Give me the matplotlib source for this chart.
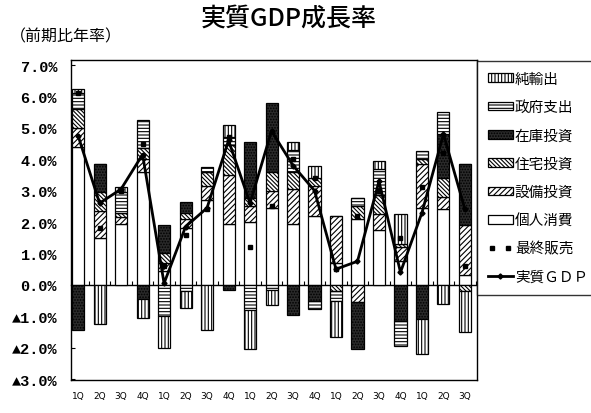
import numpy as np
import matplotlib
matplotlib.use('Agg')
import matplotlib.pyplot as plt
from matplotlib.patches import Patch
from matplotlib.lines import Line2D
from matplotlib.legend_handler import HandlerLine2D

# ---------------- data ----------------
quarters = ['1Q', '2Q', '3Q', '4Q'] * 4 + ['1Q', '2Q', '3Q']

kojin       = [4.40, 1.50, 1.95, 3.60, 0.45, 1.80, 2.70, 1.95, 2.00, 2.45, 1.95, 2.20, 0.70, 2.10, 1.75, 0.75, 2.45, 2.40, 0.30]   # 個人消費
setsubi     = [0.60, 0.85, 0.20, 0.40, 0.25, 0.30, 0.45, 1.55, 0.50, 0.55, 1.10, 0.95, 1.50, -0.55, 0.50, 0.45, 1.40, 0.40, 1.60]  # 設備投資
jutaku      = [0.60, 0.60, 0.15, 0.35, 0.30, 0.20, 0.45, 0.95, 0.25, 0.60, 0.55, 0.25, -0.20, 0.40, 0.60, 0.10, 0.15, 0.60, -0.20]  # 住宅投資
zaiko       = [-1.45, 0.90, 0.00, -0.45, 0.90, 0.35, 0.00, -0.15, 1.80, 2.20, -0.95, -0.50, 0.00, -1.50, 0.00, -1.15, -1.10, 1.40, 1.95]  # 在庫投資
seifu       = [0.50, 0.00, 0.65, 0.90, -1.00, -0.20, 0.15, 0.25, -0.80, -0.15, 0.70, -0.27, -0.30, 0.25, 0.85, -0.80, 0.25, 0.70, 0.00]  # 政府支出
junyushutsu = [0.15, -1.25, 0.15, -0.60, -1.00, -0.55, -1.45, 0.40, -1.25, -0.50, 0.25, 0.40, -1.15, 0.00, 0.25, 0.95, -1.10, -0.60, -1.30]  # 純輸出

real_gdp    = [4.75, 2.60, 3.05, 4.15, 0.05, 1.85, 2.45, 4.60, 2.60, 4.90, 3.80, 3.00, 0.50, 0.75, 3.30, 0.40, 2.30, 4.80, 2.40]
final_sales = [6.10, 1.80, 3.00, 4.50, 0.60, 1.60, 2.40, 4.70, 1.20, 2.50, 4.00, 3.40, 0.50, 2.20, 3.00, 1.50, 3.10, 4.20, 0.60]

y_ticks = [-3, -2, -1, 0, 1, 2, 3, 4, 5, 6, 7]

# ---------------- styles ----------------
components = [
    ('個人消費', kojin,       'white',   None),
    ('設備投資', setsubi,     'white',   '//////'),
    ('住宅投資', jutaku,      'white',   '\\\\\\\\\\\\\\\\'),
    ('在庫投資', zaiko,       '#2a2a2a', '......'),
    ('政府支出', seifu,       'white',   '-----'),
    ('純輸出',   junyushutsu, 'white',   '|||||'),
]

plt.rcParams['hatch.linewidth'] = 0.8
cjk = ['Noto Sans CJK JP', 'DejaVu Sans']

fig = plt.figure(figsize=(5.91, 4.14), dpi=100)
fig.patch.set_facecolor('white')

L, R, T, B = 71, 477, 61, 381
W, H = 591, 414
ax = fig.add_axes([L / W, 1 - B / H, (R - L) / W, (B - T) / H])

x = np.arange(len(quarters))
pos_bottom = np.zeros(len(x))
neg_bottom = np.zeros(len(x))
handles = {}
for name, vals, fc, hatch in components:
    v = np.array(vals, dtype=float)
    bottom = np.where(v >= 0, pos_bottom, neg_bottom)
    ax.bar(x, v, width=0.56, bottom=bottom, facecolor=fc, edgecolor='black',
           hatch=hatch, linewidth=0.9, zorder=2)
    pos_bottom += np.clip(v, 0, None)
    neg_bottom += np.clip(v, None, 0)
    handles[name] = Patch(facecolor=fc, edgecolor='black', hatch=hatch, linewidth=0.9)

fs_line, = ax.plot(x, final_sales, ls='none', marker='s', ms=3.2, color='black', zorder=4)
gdp_line, = ax.plot(x, real_gdp, color='black', lw=2, marker='D', ms=2.6, zorder=5)

ymin, ymax = -3.03, 7.16
ax.set_ylim(ymin, ymax)
ax.set_xlim(-0.33, 18.56)

ax.set_yticks(y_ticks)
ax.set_yticklabels([f'{v:.1f}%' if v >= 0 else f'▲{-v:.1f}%' for v in y_ticks],
                   family=['Liberation Mono', 'DejaVu Sans Mono'], fontweight='bold', fontsize=11)
ax.tick_params(axis='y', direction='in', length=3, pad=10, width=0.8)

ax.set_xticks(x)
ax.set_xticklabels(quarters, fontsize=6.5, family='DejaVu Sans')
ax.tick_params(axis='x', length=0, pad=8)

for s in ax.spines.values():
    s.set_linewidth(1.0)

# zero line with small category ticks
zero_frac = (0 - ymin) / (ymax - ymin)
sec = ax.secondary_xaxis(zero_frac)
sec.set_xticks(x + 0.5)
sec.tick_params(direction='in', length=3, width=0.8, labelbottom=False, labeltop=False)
sec.spines['bottom'].set_linewidth(1.0)
sec.set_xticklabels([])

# titles
fig.text(289 / W, 1 - 19 / H, '実質GDP成長率', ha='center', va='center',
         fontsize=18, fontweight='medium', family=cjk)
fig.text(10 / W, 1 - 37 / H, '（前期比年率）', ha='left', va='center',
         fontsize=11.5, family=cjk)

# legend
order = ['純輸出', '政府支出', '在庫投資', '住宅投資', '設備投資', '個人消費']
leg_handles = [handles[n] for n in order] + [fs_line, gdp_line]
leg_labels = order + ['最終販売', '実質ＧＤＰ']
leg = fig.legend(leg_handles, leg_labels, loc='upper left',
                 bbox_to_anchor=(R / W, 1 - 62 / H), borderaxespad=0,
                 frameon=True, fancybox=False, edgecolor='black',
                 prop={'family': cjk, 'size': 10.5},
                 handlelength=1.7, handleheight=0.55, handletextpad=0.15,
                 labelspacing=0.98, borderpad=0.75, numpoints=1,
                 handler_map={fs_line: HandlerLine2D(numpoints=2)})
leg.get_frame().set_linewidth(1.0)

fig.savefig('out.png', dpi=100, facecolor='white')
